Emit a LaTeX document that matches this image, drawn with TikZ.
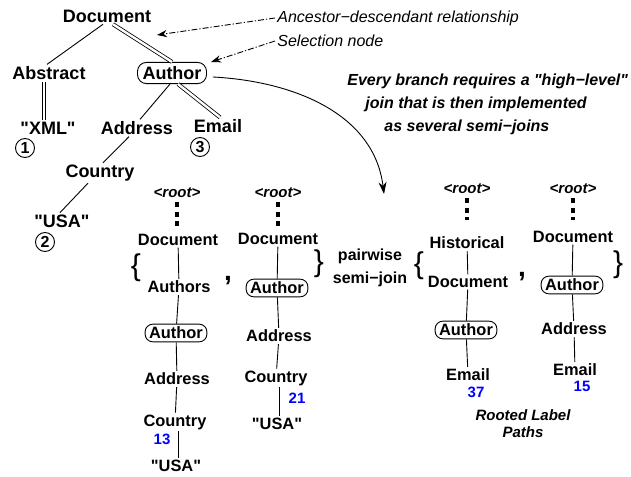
\documentclass[tikz,border=0pt]{standalone}
\usepackage{fontspec}
\setmainfont{Liberation Sans}[Ligatures=TeXOff]
\usetikzlibrary{arrows.meta}
\definecolor{numblue}{RGB}{0,0,255}
\begin{document}
\begin{tikzpicture}[x=0.5pt,y=-0.5pt,
  big/.style={font=\fontsize{9}{10}\selectfont\bfseries, inner sep=0.8pt},
  sm/.style={font=\fontsize{8.2}{9}\selectfont\bfseries, inner sep=0.8pt},
  selA/.style={draw, rounded corners=4.5pt, inner xsep=2.5pt, inner ysep=2pt, line width=0.45pt},
  selB/.style={draw, rounded corners=3.8pt, inner xsep=2pt, inner ysep=1.4pt, line width=0.45pt},
  rootlbl/.style={font=\fontsize{7.5}{8}\selectfont\bfseries\itshape, inner sep=0.8pt},
  numlbl/.style={font=\fontsize{7.5}{8}\selectfont\bfseries, text=numblue, inner sep=0pt},
  circnum/.style={circle, draw, inner sep=0pt, minimum size=9.5pt, line width=0.45pt,
                  font=\fontsize{8}{8}\selectfont\bfseries},
  edge/.style={line width=0.45pt},
  dbl/.style={double, double distance=1.2pt, line width=0.4pt},
  note/.style={font=\fontsize{8}{9}\selectfont\itshape, anchor=west, inner sep=1pt},
  dasharrow/.style={dash pattern=on 3pt off 1pt on 0.6pt off 1pt, line width=0.45pt,
                    -{Stealth[length=5pt,width=3.6pt]}},
  vdots/.style={line width=2.25pt, dash pattern=on 2.5pt off 2.25pt},
  brace/.style={font=\fontsize{15}{15}\selectfont, inner sep=0pt},
  bigcomma/.style={font=\fontsize{14}{14}\selectfont\bfseries, inner sep=0pt}
]
\useasboundingbox (0,0) rectangle (631,476);

% ---------- top tree ----------
\node[big] (doc) at (107,16) {Document};
\node[big] (abs) at (49,73) {Abstract};
\node[big, selA] (auth) at (172,73) {Author};
\node[big] (xml) at (48,128) {"XML"};
\node[big] (addr) at (137,128) {Address};
\node[big] (email) at (218,126) {Email};
\node[big] (ctry) at (100,173) {Country};
\node[big] (usa) at (62,221) {"USA"};
\node[circnum] (c1) at (25,148) {1};
\node[circnum] (c3) at (200,147) {3};
\node[circnum] (c2) at (45,242) {2};

\draw[edge] ([xshift=-2pt]doc.south) -- ([xshift=-1pt]abs.north);
\draw[dbl] ([xshift=3pt]doc.south) -- (auth.north);
\draw[dbl] ([xshift=-2.5pt]abs.south) -- ([xshift=-2pt]xml.north);
\draw[edge] ([xshift=-1pt]auth.south) -- ([xshift=1.5pt]addr.north);
\draw[dbl] ([xshift=3pt]auth.south) -- ([xshift=1pt]email.north);
\draw[edge] ([xshift=-4pt]addr.south) -- ([xshift=1.5pt]ctry.north);
\draw[edge] ([xshift=-6pt]ctry.south) -- ([xshift=-1pt]usa.north);

% ---------- notes ----------
\node[note] (anc) at (275,18) {Ancestor−descendant relationship};
\node[note] (seln) at (275,41) {Selection node};
\coordinate (ancT) at (157,35);
\coordinate (selT) at (211,62);
\draw[dasharrow] (anc.west) -- (ancT);
\draw[dasharrow] (seln.west) -- (selT);

\coordinate (cend) at (384,194);
\draw[edge, -{Stealth[length=6pt,width=4pt]}] ([xshift=3pt,yshift=-2pt]auth.east) to[out=-3, in=97] (cend);

\node[font=\fontsize{8}{11.5}\selectfont\bfseries\itshape, align=left, anchor=west, inner sep=0pt] (txt) at (347,104)
  {Every branch requires a "high−level"\\\hspace*{9pt}join that is then implemented\\\hspace*{18.5pt}as several semi−joins};

% ---------- path set A ----------
\node[rootlbl] (rA) at (177,193) {<root>};
\node[sm] (docA) at (178,240) {Document};
\node[sm] (authsA) at (179,287) {Authors};
\node[sm, selB] (autA) at (176,333) {Author};
\node[sm] (addrA) at (177,379) {Address};
\node[sm] (ctryA) at (175,422) {Country};
\node[sm] (usaA) at (176,466) {"USA"};
\node[numlbl] (n13) at (162,439) {13};
\draw[vdots] ([yshift=-4.5pt]rA.center) -- ++(0,24);
\draw[edge] (docA) -- (authsA);
\draw[edge] (authsA) -- (autA);
\draw[edge] (autA) -- (addrA);
\draw[edge] (addrA) -- (ctryA);
\draw[edge] ([xshift=1.5pt]ctryA.south) -- ([xshift=1pt]usaA.north);

% ---------- path set B ----------
\node[rootlbl] (rB) at (278,193) {<root>};
\node[sm] (docB) at (278,239) {Document};
\node[sm, selB] (autB) at (277,288) {Author};
\node[sm] (addrB) at (279,336) {Address};
\node[sm] (ctryB) at (276,378) {Country};
\node[sm] (usaB) at (277,424) {"USA"};
\node[numlbl] (n21) at (297,398) {21};
\draw[vdots] ([yshift=-4.5pt]rB.center) -- ++(0,24);
\draw[edge] (docB) -- (autB);
\draw[edge] (autB) -- (addrB);
\draw[edge] (addrB) -- (ctryB);
\draw[edge] ([xshift=1.5pt]ctryB.south) -- ([xshift=1pt]usaB.north);

\node[brace] (lbA) at (136,268) {\{};
\node[bigcomma] (cm1) at (228,281) {,};
\node[brace] (rbB) at (319,264) {\}};

\node[align=center, font=\fontsize{8}{11.5}\selectfont\bfseries, inner sep=0.5pt] (pw) at (370,268) {pairwise\\semi−join};

% ---------- path set C ----------
\node[rootlbl] (rC) at (467,189) {<root>};
\node[sm] (histC) at (467,243) {Historical};
\node[sm] (docC) at (468,282) {Document};
\node[sm, selB] (autC) at (466,330) {Author};
\node[sm] (emailC) at (468,375) {Email};
\node[numlbl] (n37) at (476,392) {37};
\draw[vdots] ([yshift=-4.5pt]rC.center) -- ++(0,22);
\draw[edge] (histC) -- (docC);
\draw[edge] (docC) -- (autC);
\draw[edge] (autC) -- (emailC);

% ---------- path set D ----------
\node[rootlbl] (rD) at (573,189) {<root>};
\node[sm] (docD) at (573,237) {Document};
\node[sm, selB] (autD) at (572,285) {Author};
\node[sm] (addrD) at (574,329) {Address};
\node[sm] (emailD) at (575,370) {Email};
\node[numlbl] (n15) at (582,386) {15};
\draw[vdots] ([yshift=-4.5pt]rD.center) -- ++(0,22);
\draw[edge] (docD) -- (autD);
\draw[edge] (autD) -- (addrD);
\draw[edge] (addrD) -- (emailD);

\node[brace] (lbC) at (419,266) {\{};
\node[bigcomma] (cm2) at (522,277) {,};
\node[brace] (rbD) at (618,265) {\}};

\node[align=center, font=\fontsize{7.5}{8.5}\selectfont\bfseries\itshape, inner sep=0pt] (rlp) at (523,424) {Rooted Label\\Paths};
\end{tikzpicture}
\end{document}
